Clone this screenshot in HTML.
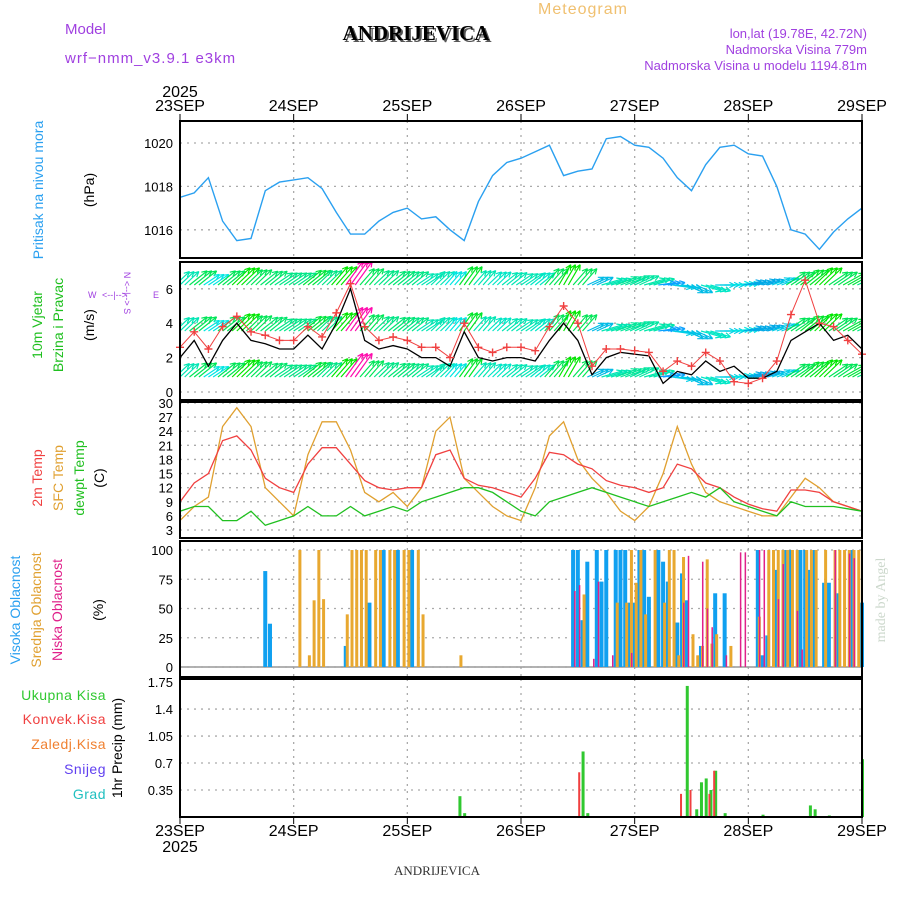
<!DOCTYPE html>
<html><head><meta charset="utf-8"><style>
body{margin:0;background:#fff;}
svg{display:block;font-family:"Liberation Sans",sans-serif;}
</style></head><body>
<svg id="c" width="900" height="900" xmlns="http://www.w3.org/2000/svg">
<text x="65" y="34" fill="#a040e0" font-size="15">Model</text>
<text x="65" y="63" fill="#a040e0" font-size="15" letter-spacing="1">wrf−nmm_v3.9.1  e3km</text>
<text x="418" y="42" fill="#555" font-size="21" font-weight="bold" font-family="Liberation Serif,serif" text-anchor="middle">ANDRIJEVICA</text>
<text x="416" y="40" fill="#000" font-size="21" font-weight="bold" font-family="Liberation Serif,serif" text-anchor="middle">ANDRIJEVICA</text>
<text x="583" y="14" fill="#f0c070" font-size="16" letter-spacing="1" text-anchor="middle">Meteogram</text>
<text x="867" y="38" fill="#a040e0" font-size="13" text-anchor="end">lon,lat (19.78E, 42.72N)</text>
<text x="867" y="54" fill="#a040e0" font-size="13" text-anchor="end">Nadmorska Visina 779m</text>
<text x="867" y="70" fill="#a040e0" font-size="13" text-anchor="end">Nadmorska Visina u modelu 1194.81m</text>
<text x="437" y="875" fill="#333" font-size="13" font-family="Liberation Serif,serif" text-anchor="middle">ANDRIJEVICA</text>
<text transform="translate(885,600) rotate(-90)" fill="#ccd8cc" font-size="14" font-family="Liberation Serif,serif" text-anchor="middle">made by Angel</text>
</svg>
<script>
const hours=[0,3,6,9,12,15,18,21,24,27,30,33,36,39,42,45,48,51,54,57,60,63,66,69,72,75,78,81,84,87,90,93,96,99,102,105,108,111,114,117,120,123,126,129,132,135,138,141,144];
const pressure=[1017.5,1017.7,1018.4,1016.4,1015.5,1015.6,1017.8,1018.2,1018.3,1018.4,1017.9,1016.8,1015.8,1015.8,1016.4,1016.8,1017.0,1016.5,1016.6,1016.0,1015.5,1017.3,1018.5,1019.1,1019.3,1019.6,1019.9,1018.5,1018.7,1018.8,1020.2,1020.3,1019.9,1019.8,1019.3,1018.4,1017.8,1019.0,1019.8,1019.9,1019.5,1019.4,1018.0,1016.0,1015.8,1015.1,1015.9,1016.5,1017.0];
const temp2m=[9,13,15,22,23,20,14,12,11,17,20.5,20.5,17,13.5,12,11.5,12,12,19,20,14,12.5,12,11,10,14,19.5,19,17,16,13.5,12.5,12,11,12,17,16,13,12,10,8.5,7.5,7,11.5,11.5,11,9,8,7];
const tempSfc=[5,8,10,25,29,25,12,9,6,19,26,26,20,11,9,11,8,12,24,27,14,11,8,6,5,12,23,26,18,14,11,7,5,8,15,25,17,11,9,8,7,6,6,10,14,12,9,8,7];
const dewpt=[7,8,8,5,5,7,4,5,6,8,6,6,8,6,7,8,7,9,10,11,12,12,11,9,7,6,9,10,11,12,11,10,9,8,9,10,11,10,12,9,8,7,6,9,8,8,8,7.5,7];
const windSpeed=[2,3,1.5,3,4,3,2.8,2.5,2.5,3.3,2.5,4,6,3,2.5,2.7,2.5,2,2,1.5,3.5,2,1.8,2,2,1.8,3,4,3,1,2,2.3,2.2,2.1,0.5,1.2,1,1.8,1.2,1.5,0.8,0.8,1.2,3,3.5,4,3,3.3,2.5];
const windGust=[2.6,3.5,2.5,3.8,4.4,3.5,3.3,3,3,3.8,3.2,4.6,6.3,3.8,3,3.2,3,2.6,2.6,2,4,2.6,2.3,2.6,2.6,2.4,3.8,5,4,1.5,2.5,2.5,2.4,2.3,1.2,1.8,1.5,2.3,1.8,0.6,0.5,0.8,1.8,4.5,6.5,4,3.8,3,2.2];
const windDir=[220,225,230,225,220,220,225,230,230,225,220,215,210,215,220,225,225,230,220,215,210,215,220,225,230,225,215,205,215,240,250,245,240,250,260,280,300,290,270,265,255,250,245,230,225,220,230,235,240];
const highH=[18,19,35,40,43,46,49,83,84,85,86,88,89,90,92,93,94,95,96,97,98,99,101,102,103,105,106,107,110,113,115,122,123,124,126,128,129,131,132,133,134,136,137,139,142,144];
const highV=[82,37,18,55,100,100,100,100,100,40,90,100,73,100,100,100,100,55,55,100,100,60,100,90,73,38,80,57,18,63,63,100,10,27,83,100,100,100,100,83,100,72,72,63,100,55];
const midH=[25,27,28,29,30,35,36,37,38,39,41,42,44,45,47,48,50,51,59,85,92,94,95,96,97,98,100,102,103,104,105,106,108,109,110,111,112,113,116,122,124,125,126,127,128,129,130,132,133,134,136,138,139,140,141,142,143];
const midV=[100,10,57,100,58,45,100,100,100,100,100,100,100,100,100,100,100,45,10,62,55,55,100,72,100,45,100,55,100,100,10,94,28,10,18,92,20,28,18,43,100,100,100,100,100,100,100,100,100,100,100,100,100,100,100,100,100];
const lowH=[83,84,87,88,91,95,106,107,110,111,112,115,118,119,122,123,126,127,130,131,138,141,142];
const lowV=[65,70,7,73,10,12,55,95,90,50,34,10,98,98,100,100,58,88,48,15,100,97,93];
const rainH=[59,60,85,86,107,109,110,111,112,113,115,123,133,134,137,144];
const rainV=[0.27,0.05,0.85,0.05,1.7,0.1,0.45,0.5,0.35,0.6,0.05,0.03,0.15,0.1,0.02,0.75];
const convH=[84.5,106,108,112,113];
const convV=[0.58,0.3,0.35,0.3,0.6];
const dayLabels=["23SEP","24SEP","25SEP","26SEP","27SEP","28SEP","29SEP"];
const pTicks=[1016,1018,1020];
const wTicks=[0,2,4,6];
const tTicks=[3,6,9,12,15,18,21,24,27,30];
const cTicks=[0,25,50,75,100];
const rTicks=[0.35,0.7,1.05,1.4,1.75];

const NS="http://www.w3.org/2000/svg";
const svg=document.getElementById('c');
function mk(tag,attrs,parent){const e=document.createElementNS(NS,tag);for(const k in attrs)e.setAttribute(k,attrs[k]);(parent||svg).appendChild(e);return e;}
const X0=180,X1=862;
const X=h=>X0+h*(X1-X0)/144;
const panels=[[121,258],[262,400],[402,538],[541,677],[679,817]];
const Yp=p=>143+(1020-p)*21.7;
const Yw=v=>392-v*17.2;
const Yt=t=>530-(t-3)*4.704;
const Yc=c=>667-c*1.17;
const Yr=r=>817-r*77.1;

const defs=mk('defs',{});
panels.forEach((p,i)=>{const cp=mk('clipPath',{id:'cp'+i},defs);mk('rect',{x:X0,y:p[0],width:X1-X0,height:p[1]-p[0]},cp);});

function grid(pi,ys){
  const g=mk('g',{stroke:'#aaa','stroke-dasharray':'2,5','stroke-width':1.3});
  
  
  for(let d=1;d<6;d++)mk('line',{x1:X(d*24),x2:X(d*24),y1:panels[pi][0],y2:panels[pi][1]},g);
  ys.forEach(y=>mk('line',{x1:X0,x2:X1,y1:y,y2:y},g));
}
grid(0,pTicks.map(Yp));grid(1,wTicks.map(Yw));grid(2,tTicks.map(Yt));grid(3,cTicks.map(Yc));grid(4,[0.35,0.7,1.05,1.4].map(Yr));

function ticks(vals,yf,name){
  vals.forEach(v=>{const t=mk('text',{x:173,y:yf(v)+5,'font-size':13,'text-anchor':'end'});t.textContent=v;
  });
}
ticks(pTicks,Yp,'pressure');ticks(wTicks,Yw,'wind');ticks(tTicks,Yt,'temp');ticks(cTicks,Yc,'cloud');ticks(rTicks,Yr,'precip');

function line(arr,yf,color,pi,name,w){
  const d=arr.map((v,i)=>(i?'L':'M')+X(hours[i]).toFixed(1)+','+yf(v).toFixed(1)).join('');
  const p=mk('path',{d,fill:'none',stroke:color,'stroke-width':w||1.4,'clip-path':'url(#cp'+pi+')'});
  
}
line(pressure,Yp,'#2aa0f0',0,'pressure-line');

function col(s){let hue=s<4?215-s*24:120-(s-4)*80;hue=(hue+360)%360;return 'hsl('+hue+',100%,'+(hue>60&&hue<200?45:52)+'%)';}
const wg=mk('g',{'clip-path':'url(#cp1)','stroke-width':1.2});

[239,285,331,377,423].forEach(base=>{
  hours.forEach((h,i)=>{
    const s=windSpeed[i],a=(windDir[i]+180)*Math.PI/180,L=16+s*3;
    for(let k=-1;k<=1;k++){
      const x=X(h)+k*4.7,dx=Math.sin(a)*L,dy=-Math.cos(a)*L*0.8;
      const c=col(s);
      mk('line',{x1:x,y1:base,x2:x+dx,y2:base+dy,stroke:c},wg);
      const ang=Math.atan2(dy,dx);
      mk('path',{d:'M'+(x+dx)+','+(base+dy)+'l'+(-6*Math.cos(ang-0.45))+','+(-6*Math.sin(ang-0.45))+'M'+(x+dx)+','+(base+dy)+'l'+(-6*Math.cos(ang+0.45))+','+(-6*Math.sin(ang+0.45)),stroke:c,fill:'none'},wg);
    }
  });
});
line(windSpeed,Yw,'#000',1,'wind-speed-line',1.3);
line(windGust,Yw,'#f04040',1,'wind-gust-line',1);
windGust.forEach((v,i)=>{const x=X(hours[i]),y=Yw(v);
  const p=mk('path',{d:'M'+(x-4)+','+y+'h8M'+x+','+(y-4)+'v8',stroke:'#f04040','stroke-width':1.4});
  });

line(tempSfc,Yt,'#e0a030',2,'sfc-temp-line',1.3);
line(temp2m,Yt,'#f04040',2,'temp-2m-line',1.3);
line(dewpt,Yt,'#20c020',2,'dewpoint-line',1.3);

mk('line',{x1:X0,x2:X1,y1:Yc(0),y2:Yc(0),stroke:'#999','stroke-width':1.5});
function bars(H,V,yf,color,w,off,name){
  H.forEach((h,i)=>{const y=yf(V[i]);const r=mk('rect',{x:X(h)+off,y:y,width:w,height:yf(0)-y,fill:color});
  });
}
bars(highH,highV,Yc,'#10a0f0',4,-2,'high-cloud-bar');
bars(midH,midV,Yc,'#e8a830',3,0,'mid-cloud-bar');
bars(lowH,lowV,Yc,'#e0208a',1.5,1,'low-cloud-bar');
bars(rainH,rainV,Yr,'#30c830',3,-1,'total-precip-bar');
bars(convH,convV,Yr,'#f04040',2,-2,'convective-precip-bar');

panels.forEach((p,i)=>{const r=mk('rect',{x:X0,y:p[0],width:X1-X0,height:p[1]-p[0],fill:'none',stroke:'#000','stroke-width':2});
 });

dayLabels.forEach((d,i)=>{
  [[111,'top'],[836,'bottom']].forEach(([y,n])=>{const t=mk('text',{x:X(i*24),y,'font-size':16,'text-anchor':'middle'});t.textContent=d;
  
  mk('line',{x1:X(i*24),x2:X(i*24),y1:n=='top'?114:817,y2:n=='top'?121:824,stroke:'#000'});});
});
[[97,'year-top'],[852,'year-bottom']].forEach(([y,n])=>{const t=mk('text',{x:180,y,'font-size':16,'text-anchor':'middle'});t.textContent='2025';
 });

function vlab(x,y,txt,color,name,size){const t=mk('text',{transform:'translate('+x+','+y+') rotate(-90)',fill:color,'font-size':size||14,'text-anchor':'middle'});t.textContent=txt;
 }
vlab(43,190,'Pritisak na nivou mora','#2aa0f0','pressure-title');
vlab(94,190,'(hPa)','#000','pressure-unit');
vlab(42,325,'10m Vjetar','#20c020','wind-title');
vlab(63,325,'Brzina i Pravac','#20c020','wind-title-2');
vlab(94,325,'(m/s)','#000','wind-unit');
vlab(42,478,'2m Temp','#f04040','temp-2m-title');
vlab(63,478,'SFC Temp','#e0a030','sfc-temp-title');
vlab(84,478,'dewpt Temp','#20c020','dewpt-title');
vlab(104,478,'(C)','#000','temp-unit');
vlab(20,610,'Visoka Oblacnost','#2aa0f0','high-cloud-title');
vlab(41,610,'Srednja Oblacnost','#e0a030','mid-cloud-title');
vlab(62,610,'Niska Oblacnost','#e0208a','low-cloud-title');
vlab(103,610,'(%)','#000','cloud-unit');
vlab(122,748,'1hr Precip (mm)','#000','precip-title');
[['Ukupna Kisa','#30c830',700],['Konvek.Kisa','#f04040',724],['Zaledj.Kisa','#f08030',749],['Snijeg','#6040f0',774],['Grad','#20c0c0',799]].forEach(([s,c,y])=>{
 const t=mk('text',{x:106,y,'font-size':14,fill:c,'text-anchor':'end','letter-spacing':0.5});t.textContent=s;
 });
const cg=mk('g',{fill:'#a040e0','font-size':9});

[['W',88,298],['E',153,298]].forEach(([s,x,y])=>{const t=mk('text',{x,y},cg);t.textContent=s;});
const ct=mk('text',{x:102,y:298},cg);ct.textContent='<--|-->';
const cv=mk('text',{transform:'translate(124,293) rotate(90)','text-anchor':'middle'},cg);cv.textContent='N <--|--> S';
</script>
</body></html>
